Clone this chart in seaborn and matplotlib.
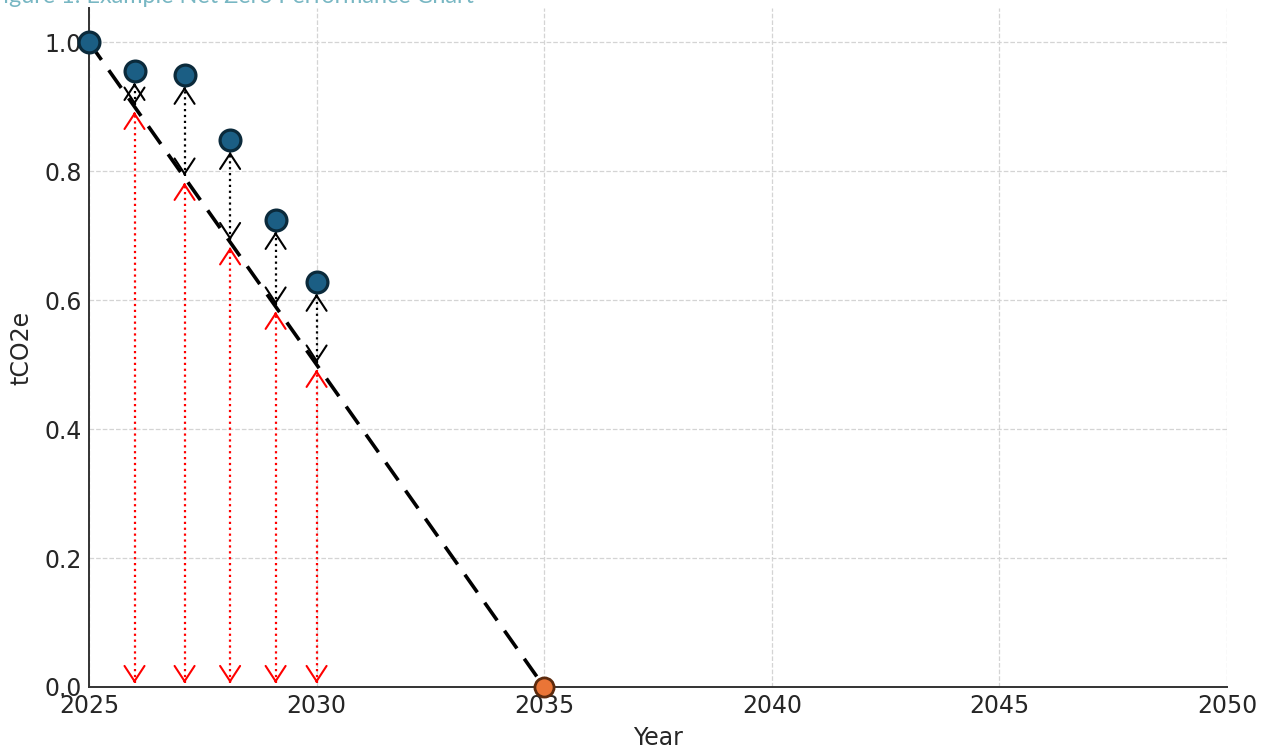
import seaborn as sns
import matplotlib.pyplot as plt
import numpy as np

# Reported emissions (normalised to the 2025 baseline)
years = [2025.0, 2026.0, 2027.1, 2028.1, 2029.1, 2030.0]
emissions = [1.0, 0.955, 0.949, 0.848, 0.724, 0.628]

# Straight-line target to net zero
target_years = [2025, 2035]
target_values = [1.0, 0.0]
net_zero_year = [2035]
net_zero_value = [0.0]

x_ticks = [2025, 2030, 2035, 2040, 2045, 2050]
y_ticks = [0.0, 0.2, 0.4, 0.6, 0.8, 1.0]

sns.set_style("white")
plt.rcParams['font.family'] = ['DejaVu Sans']

fig = plt.figure(figsize=(12.64, 7.49), dpi=100)
ax = fig.add_axes([0.0704, 0.0828, 0.9003, 0.9065])

# target pathway
sns.lineplot(x=target_years, y=target_values, ax=ax, color='black',
             linewidth=2.6, linestyle=(0, (6, 3.5)), zorder=3)

head = 'head_length=0.55,head_width=0.36'


def dotted_arrow(x, y_low, y_high, color):
    # dotted shaft with solid open heads at both ends
    ax.plot([x, x], [y_low, y_high], color=color, linestyle=':', linewidth=1.6, zorder=2)
    d = 0.004
    ax.annotate('', xy=(x, y_low), xytext=(x, y_low + d),
                arrowprops=dict(arrowstyle='->,' + head, color=color, lw=1.5,
                                mutation_scale=20, shrinkA=0, shrinkB=0), zorder=2)
    ax.annotate('', xy=(x, y_high), xytext=(x, y_high - d),
                arrowprops=dict(arrowstyle='->,' + head, color=color, lw=1.5,
                                mutation_scale=20, shrinkA=0, shrinkB=0), zorder=2)


# arrows for every reported year after the baseline
for x, e in zip(years[1:], emissions[1:]):
    t = np.interp(x, target_years, target_values)
    # gap between target and zero
    dotted_arrow(x, 0.006, t - 0.008, 'red')
    # gap between reported and target
    dotted_arrow(x, t + 0.003, e - 0.018, 'black')

sns.scatterplot(x=years, y=emissions, ax=ax, s=225, color='#1b5e84',
                edgecolor='#0b2a3b', linewidth=2.3, zorder=5, clip_on=False)
sns.scatterplot(x=net_zero_year, y=net_zero_value, ax=ax, s=190, color='#ea7537',
                edgecolor='#5c2a0d', linewidth=2.0, zorder=5, clip_on=False)

ax.set_xlim(2025, 2050)
ax.set_ylim(0, 1.053)
ax.set_xticks(x_ticks)
ax.set_yticks(y_ticks)
ax.set_yticklabels([f"{v:.1f}" for v in y_ticks])

ax.set_axisbelow(True)
ax.grid(True, linestyle='--', color='#d4d4d4', linewidth=0.9)
for side in ['top', 'right']:
    ax.spines[side].set_visible(False)
for side in ['left', 'bottom']:
    ax.spines[side].set_color('#333333')
    ax.spines[side].set_linewidth(1.4)

ax.tick_params(direction='in', length=5, width=1.3, color='#333333',
               labelsize=17, labelcolor='#262626', pad=5)
ax.set_xlabel('Year', fontsize=17, color='#262626', labelpad=6)
ax.set_ylabel('tCO2e', fontsize=17, color='#262626', labelpad=8)

fig.text(-0.008, 0.996, 'Figure 1: Example Net Zero Performance Chart', fontsize=16.8,
         color='#78b7c3', family=['Lato', 'DejaVu Sans'], va='baseline', ha='left')

fig.savefig('out.png', dpi=100)
